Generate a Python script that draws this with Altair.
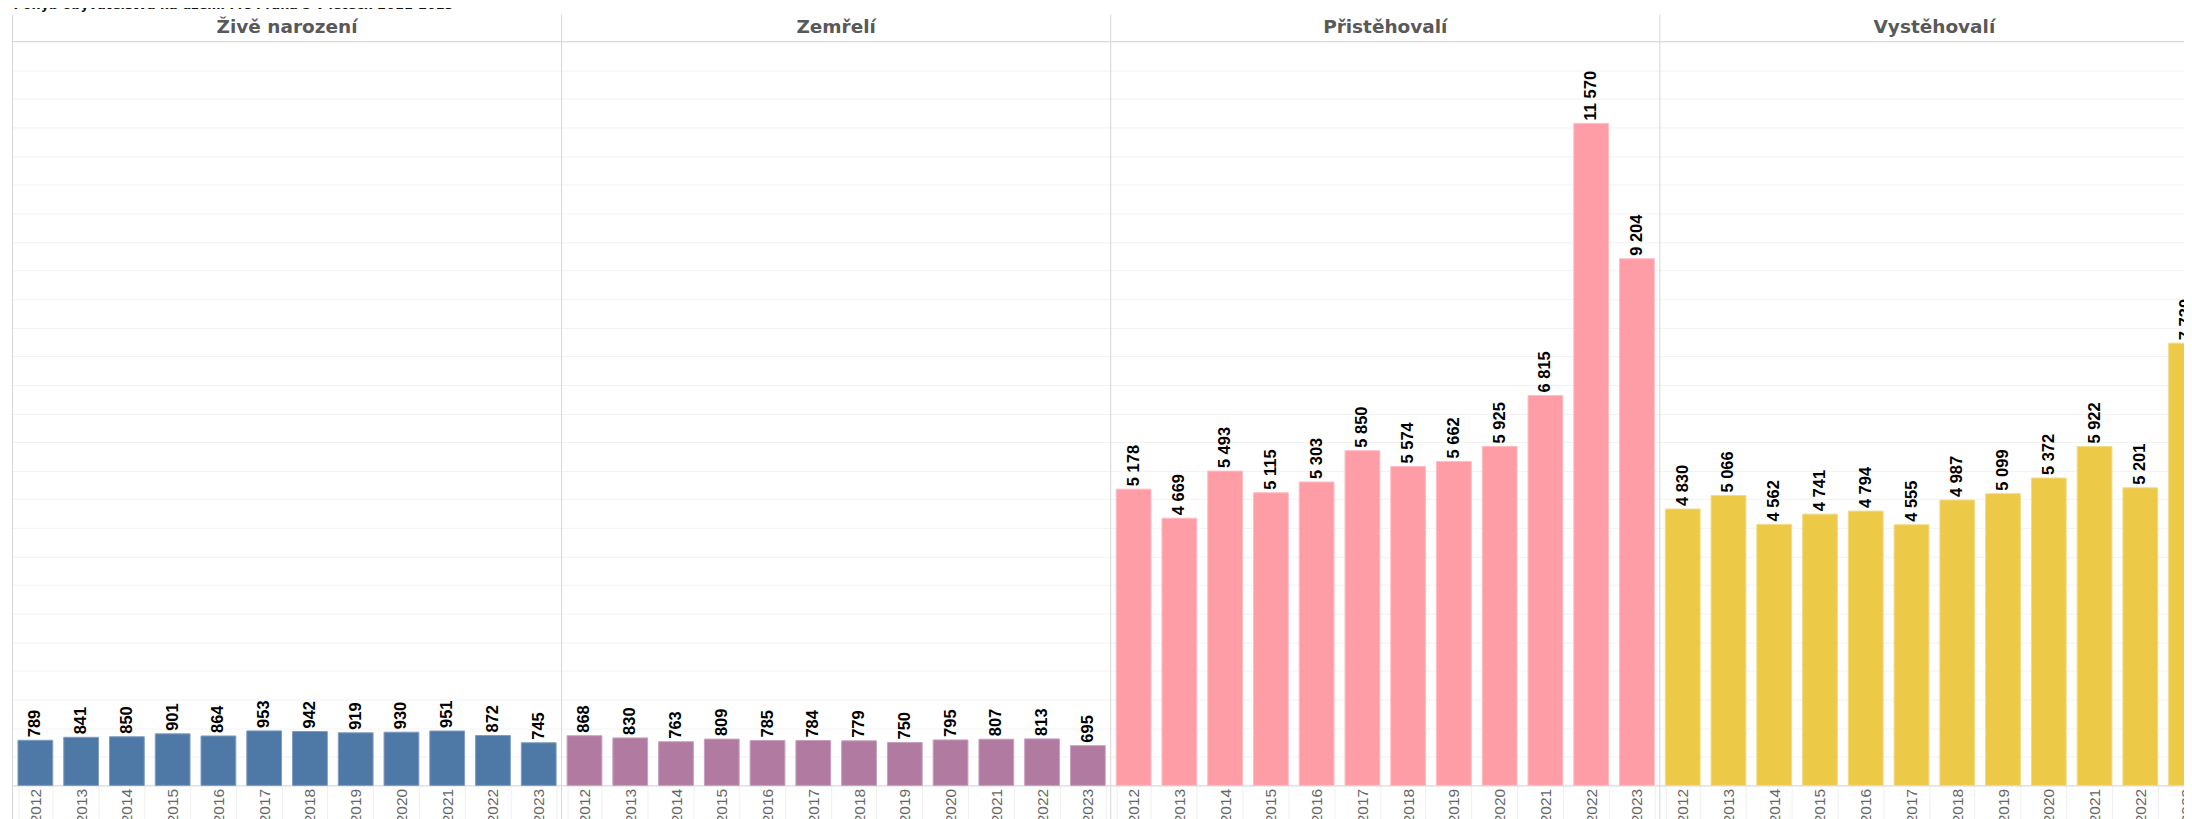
import altair as alt
import pandas as pd

title_text = "Pohyb obyvatelstva na území MČ Praha 5 v letech 2011-2023"
years = ["2012", "2013", "2014", "2015", "2016", "2017", "2018", "2019", "2020", "2021", "2022", "2023"]
categories = ["Živě narození", "Zemřelí", "Přistěhovalí", "Vystěhovalí"]
zive_narozeni = [789, 841, 850, 901, 864, 953, 942, 919, 930, 951, 872, 745]
zemreli = [868, 830, 763, 809, 785, 784, 779, 750, 795, 807, 813, 695]
pristehovali = [5178, 4669, 5493, 5115, 5303, 5850, 5574, 5662, 5925, 6815, 11570, 9204]
vystehovali = [4830, 5066, 4562, 4741, 4794, 4555, 4987, 5099, 5372, 5922, 5201, 7730]
series = [zive_narozeni, zemreli, pristehovali, vystehovali]
colors = ["#4e79a7", "#b07aa1", "#ff9da7", "#edc948"]
strokes = ["#7f9dbf", "#c9a0bd", "#ffbcc3", "#f3da85"]

W = 550
H = 745
LABEL_FONT = "Liberation Sans"
BORDER = "#d6d6d6"


def fmt(v):
    return f"{v:,}".replace(",", " ")


def panel(i):
    df = pd.DataFrame({"rok": years, "hodnota": series[i]})
    df["popisek"] = [fmt(v) for v in series[i]]
    base = alt.Chart(df)
    x = alt.X(
        "rok:N",
        sort=years,
        title=None,
        scale=alt.Scale(paddingInner=0.24, paddingOuter=0.12),
        axis=alt.Axis(
            labelAngle=270,
            labelFont=LABEL_FONT,
            labelFontSize=15.5,
            labelColor="#666666",
            labelPadding=-37,
            ticks=True,
            tickBand="extent",
            tickColor="#efefef",
            tickSize=40,
            domainColor=BORDER,
            grid=False,
        ),
    )
    y = alt.Y(
        "hodnota:Q",
        scale=alt.Scale(domain=[0, 13000], nice=False),
        axis=alt.Axis(
            title=None,
            labels=False,
            ticks=False,
            domain=False,
            grid=True,
            gridColor="#f2f2f2",
            values=list(range(0, 13001, 500)),
        ),
    )
    bars = base.mark_bar(color=colors[i], stroke=strokes[i], strokeWidth=1).encode(x=x, y=y)
    labels = base.mark_text(
        angle=270,
        align="left",
        baseline="middle",
        dx=3,
        font=LABEL_FONT,
        fontSize=16.5,
        fontWeight="bold",
        color="#000000",
    ).encode(x=x, y=y, text="popisek:N")

    hdr_df = pd.DataFrame({"t": [categories[i]]})
    header = alt.Chart(hdr_df).mark_text(
        font="DejaVu Sans",
        fontSize=18.5,
        fontWeight="bold",
        color="#595959",
        align="center",
        baseline="alphabetic",
    ).encode(x=alt.value(W / 2), y=alt.value(-9), text="t:N")
    vline = alt.Chart(hdr_df).mark_rule(color=BORDER, strokeWidth=1).encode(
        x=alt.value(0), y=alt.value(-27), y2=alt.value(H + 45)
    )
    hline = alt.Chart(hdr_df).mark_rule(color=BORDER, strokeWidth=1).encode(
        x=alt.value(0), x2=alt.value(W), y=alt.value(0)
    )
    layers = [bars, labels, vline, hline, header]
    if i == 0:
        bound = alt.Chart(hdr_df).mark_rule(color="#ffffff", strokeWidth=1, opacity=0).encode(
            x=alt.value(-20), y=alt.value(-80), y2=alt.value(-79)
        )
        tdf = pd.DataFrame({"t": [title_text]})
        title = alt.Chart(tdf).mark_text(
            font="DejaVu Sans",
            fontSize=12.8,
            fontWeight="bold",
            color="#111111",
            align="left",
            baseline="alphabetic",
        ).encode(x=alt.value(1), y=alt.value(-33), text="t:N")
        layers += [bound, title]
    return alt.layer(*layers).properties(width=W, height=H)


chart = (
    alt.hconcat(*[panel(i) for i in range(4)], spacing=0, bounds="flush")
    .properties(
        padding={"left": -15.5, "top": -47, "right": -26, "bottom": -12},
        background="#ffffff",
    )
    .configure_view(strokeWidth=0)
)

chart.save("out.html", embed_options={"renderer": "svg", "actions": False})
